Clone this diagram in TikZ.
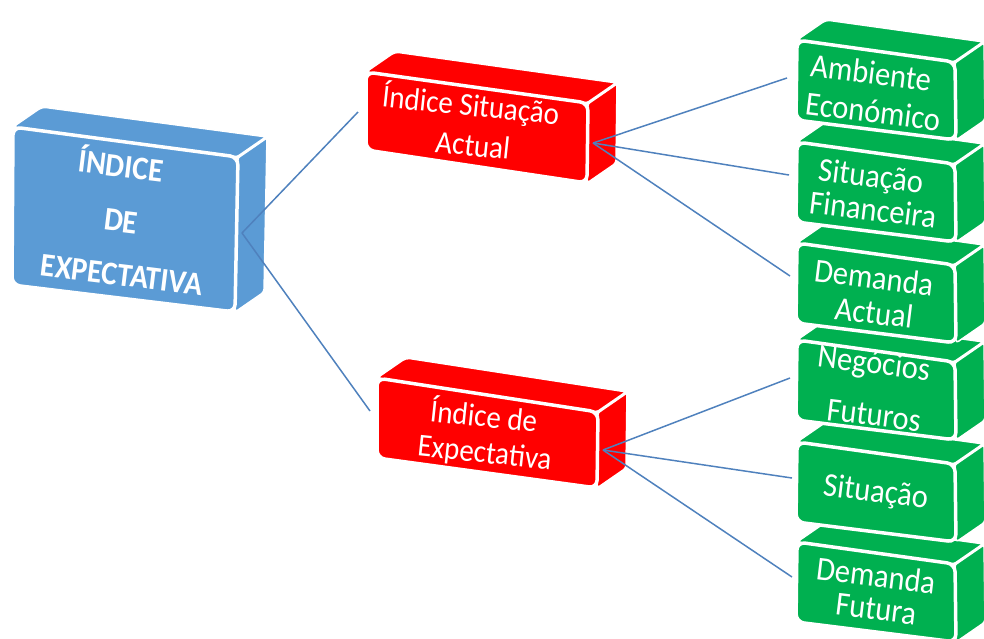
\documentclass[tikz,border=0pt]{standalone}
\usepackage{fontspec}
\setmainfont{Carlito}
\usetikzlibrary{calc}
\definecolor{bbox}{RGB}{91,155,213}
\definecolor{rbox}{RGB}{255,0,0}
\definecolor{gbox}{RGB}{0,176,80}
\definecolor{conn}{RGB}{79,129,189}
% #1 TL, #2 TR, #3 BR, #4 BL, #5 colour
\newcommand{\cubeshape}[5]{%
  \fill[#5, draw=white, line width=1.5pt, rounded corners=4pt, line join=round]
    #1 -- #2 -- ($#2+(29,-20)$) -- ($#1+(29,-20)$) -- cycle;
  \fill[#5, draw=white, line width=1.5pt, rounded corners=3pt, line join=round]
    #2 -- ($#2+(29,-20)$) -- ($#3+(29,-20)$) -- #3 -- cycle;
  \draw[white, line width=3pt] #2 -- ($#2+(29,-20)$);
  \filldraw[fill=#5, draw=white, line width=3.5pt, rounded corners=8pt]
    #1 -- #2 -- #3 -- #4 -- cycle;
}
\newcommand{\greencube}[1]{%
  \cubeshape{(797,#1)}{(955,#1+22)}{(956,#1+100)}{(796,#1+80)}{gbox}}
\tikzset{
  boxtext/.style={text=white, rotate=-7, yscale=1.1, inner sep=0pt,
    text height=0.72em, text depth=0.2em},
  bluetext/.style={boxtext, font=\bfseries\fontsize{30}{36}\selectfont},
  redtext/.style={boxtext, rotate=1, font=\fontsize{29}{36}\selectfont},
  greentext/.style={boxtext, font=\fontsize{30.5}{36}\selectfont},
  conline/.style={draw=conn, line width=1.5pt},
}
\begin{document}
\begin{tikzpicture}[x=1pt,y=-1pt]
\useasboundingbox (0,0) rectangle (984,638);
\clip (0,0) rectangle (984,638);
% blue box
\cubeshape{(13,127)}{(238,157)}{(235,312)}{(12,285)}{bbox}
% red boxes
\cubeshape{(366,72)}{(588,103)}{(587,183)}{(366,150)}{rbox}
\cubeshape{(377,378)}{(598,412)}{(597,488)}{(377,458)}{rbox}
% green boxes (bottom first)
\greencube{542}
\greencube{442}
\greencube{340}
\greencube{243}
\greencube{142}
\greencube{40}
% texts
\node[bluetext] (b1) at (120,174) {ÍNDICE};
\node[bluetext] (b2) at (120,229) {DE};
\node[bluetext] (b3) at (121,283) {EXPECTATIVA};
\node[redtext] (r11) at (470,113) {Índice Situação};
\node[redtext] (r12) at (472,153) {Actual};
\node[redtext] (r21) at (483,424) {Índice de};
\node[redtext] (r22) at (484,460) {Expectativa};
\node[greentext] (g11) at (870,81) {Ambiente};
\node[greentext] (g12) at (872,120) {Económico};
\node[greentext] (g21) at (870,184) {Situação};
\node[greentext] (g22) at (872,218) {Financeira};
\node[greentext] (g31) at (873,286) {Demanda};
\node[greentext] (g32) at (873,321) {Actual};
\node[greentext] (g41) at (873,371) {Negócios};
\node[greentext] (g42) at (873,423) {Futuros};
\node[greentext] (g51) at (875,499) {Situação};
\node[greentext] (g61) at (875,584) {Demanda};
\node[greentext] (g62) at (875,617) {Futura};
% connector ends
\coordinate (bj) at (242,233);
\coordinate (r1in) at (358,112);
\coordinate (r2in) at (370,411);
\coordinate (r1j) at (593,143);
\coordinate (r2j) at (603,450);
\coordinate (g1in) at (787,78);
\coordinate (g2in) at (789,175);
\coordinate (g3in) at (790,276);
\coordinate (g4in) at (790,378);
\coordinate (g5in) at (792,478);
\coordinate (g6in) at (792,577);
\draw[conline] (bj) -- (r1in);
\draw[conline] (bj) -- (r2in);
\draw[conline] (r1j) -- (g1in);
\draw[conline] (r1j) -- (g2in);
\draw[conline] (r1j) -- (g3in);
\draw[conline] (r2j) -- (g4in);
\draw[conline] (r2j) -- (g5in);
\draw[conline] (r2j) -- (g6in);
\end{tikzpicture}
\end{document}
